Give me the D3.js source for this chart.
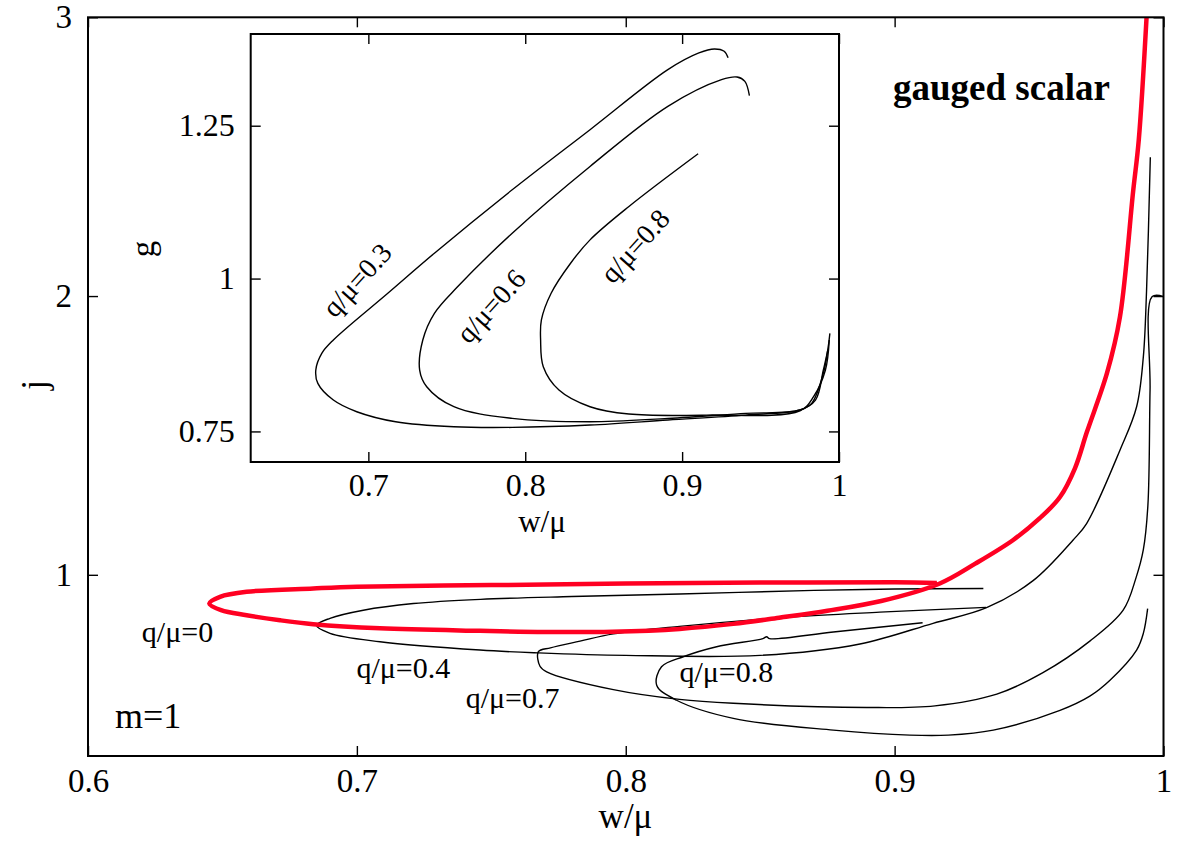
<!DOCTYPE html>
<html>
<head>
  <meta charset="utf-8">
  <title>gauged scalar, j vs w/mu</title>
  <style>
    body { margin: 0; background: #fff; }
    text { font-family: "Liberation Serif", "DejaVu Serif", serif; fill: #000; }
  </style>
</head>
<body>
  <script src="https://cdn.jsdelivr.net/npm/d3@7/dist/d3.min.js"></script>
  <script>
    // ---- data: [w/mu, value] ----
    // main plot, j vs w/mu
    var mainQ0 = [[0.9157,0.971],[0.9,0.973],[0.85,0.972],[0.8,0.969],[0.75,0.963],[0.7,0.957],[0.6838,0.951],
      [0.659,0.939],[0.6491,0.921],[0.6451,0.897],[0.6495,0.873],[0.659,0.855],[0.6714,0.837],[0.6838,0.823],
      [0.7086,0.808],[0.7458,0.799],[0.77,0.795],[0.795,0.796],[0.82,0.806],[0.84,0.824],[0.857,0.846],
      [0.875,0.871],[0.895,0.906],[0.9168,0.969],[0.93,1.04],[0.9441,1.125],[0.954,1.203],[0.9615,1.279],
      [0.9671,1.383],[0.9715,1.512],[0.979,1.724],[0.9838,1.925],[0.9887,2.375],[0.9908,2.56],[0.9937,3.0]];
    var mainQ04 = [[0.933,0.951],[0.9,0.949],[0.87,0.944],[0.82,0.931],[0.78,0.922],[0.746,0.912],[0.721,0.897],
      [0.7024,0.873],[0.69,0.844],[0.685,0.819],[0.69,0.79],[0.7086,0.76],[0.7458,0.73],[0.7675,0.72],
      [0.8,0.711],[0.85,0.711],[0.8871,0.752],[0.9143,0.826],[0.9342,0.882],[0.9515,0.979],[0.9664,1.125],
      [0.9714,1.184],[0.9838,1.447],[0.99,1.603],[0.9925,1.782],[0.9937,2.02],[0.9951,2.498]];
    var mainQ07 = [[0.934,0.883],[0.8945,0.866],[0.86,0.848],[0.82,0.815],[0.7954,0.788],[0.783,0.762],
      [0.772,0.738],[0.7675,0.724],[0.7681,0.672],[0.7706,0.652],[0.7954,0.588],[0.82,0.553],[0.84,0.539],
      [0.8896,0.524],[0.915,0.53],[0.938,0.572],[0.955,0.648],[0.9726,0.762],[0.985,0.873],[0.9898,0.99],
      [0.9925,1.09],[0.9942,1.25],[0.995,1.663],[0.9958,1.998],[1.0,1.998]];
    var mainQ08 = [[0.9104,0.828],[0.8772,0.795],[0.8535,0.771],[0.8524,0.778],[0.851,0.771],[0.8338,0.742],
      [0.8214,0.706],[0.8133,0.67],[0.8115,0.604],[0.8189,0.55],[0.84,0.485],[0.8772,0.443],[0.9057,0.425],
      [0.92,0.425],[0.9367,0.443],[0.9615,0.514],[0.9726,0.565],[0.9801,0.622],[0.99,0.73],[0.9925,0.79],
      [0.9941,0.879]];

    // inset, g vs w/mu
    var insetQ03 = [[0.9293,1.361],[0.9268,1.3717],[0.9206,1.3755],[0.9107,1.369],[0.8909,1.3417],[0.8413,1.2435],
      [0.7917,1.1452],[0.7421,1.0415],[0.7124,0.976],[0.6777,0.8996],[0.6703,0.8777],[0.6665,0.8504],
      [0.6678,0.8286],[0.6777,0.8013],[0.6926,0.7822],[0.7174,0.7658],[0.7545,0.7576],[0.7917,0.7566],
      [0.8413,0.7604],[0.8909,0.7686],[0.9404,0.7767],[0.9751,0.785],[0.9826,0.7959],[0.99,0.845],
      [0.9925,0.8777],[0.9942,0.9105]];
    var insetQ06 = [[0.9429,1.2991],[0.94,1.3226],[0.935,1.3297],[0.9251,1.3253],[0.8909,1.2817],[0.8413,1.1834],
      [0.7917,1.0742],[0.757,0.9869],[0.7421,0.9432],[0.7347,0.8996],[0.7327,0.8504],[0.7372,0.8231],
      [0.7545,0.7904],[0.7917,0.7713],[0.8413,0.7658],[0.8909,0.7713],[0.9404,0.7795],[0.9751,0.785],
      [0.985,0.8013],[0.99,0.85],[0.9929,0.8832]];
    var insetQ08 = [[0.9102,1.2041],[0.8661,1.1179],[0.8413,1.0633],[0.8289,1.0251],[0.8165,0.976],[0.8103,0.9323],
      [0.8098,0.8996],[0.8115,0.8559],[0.8215,0.8177],[0.8413,0.7904],[0.8661,0.7784],[0.9157,0.7767],
      [0.9751,0.7838],[0.9838,0.8068],[0.9913,0.85],[0.9938,0.8996]];

    // ticks and labels
    var mainXTicks = [0.6, 0.7, 0.8, 0.9, 1];
    var mainYTicks = [1, 2, 3];
    var insetXTicks = [0.7, 0.8, 0.9, 1];
    var insetYTicks = [0.75, 1, 1.25];
    var mainCurveLabels = ["q/\u03bc=0", "q/\u03bc=0.4", "q/\u03bc=0.7", "q/\u03bc=0.8"];
    var insetCurveLabels = ["q/\u03bc=0.3", "q/\u03bc=0.6", "q/\u03bc=0.8"];

    // ---- svg ----
    var svg = d3.select("body").append("svg").attr("id", "svg1")
    svg.attr('width', 1178)
    svg.attr('height', 841)

    var x = d3.scaleLinear().domain([0.6, 1]).range([88, 1163.5]),
        y = d3.scaleLinear().domain([0.35, 3]).range([756, 17.3]);
    var ix = d3.scaleLinear().domain([0.625, 1]).range([250.7, 839]),
        iy = d3.scaleLinear().domain([0.7, 1.4]).range([462, 34]);

    var fmt = d3.format("~g");

    // draws four inward-ticked sides, labels only on bottom/left
    function frame(g, sx, sy, xt, yt, padB, padL, fs) {
      var x0 = sx.range()[0], x1 = sx.range()[1], y0 = sy.range()[0], y1 = sy.range()[1];
      g.append("rect").attr("x", x0).attr("y", y1).attr("width", x1 - x0).attr("height", y0 - y1)
        .attr("fill", "#fff").attr("stroke", "none");
      var sides = [
        [d3.axisBottom(sx).tickValues(xt).tickFormat(fmt).tickPadding(padB), "translate(0," + y0 + ")"],
        [d3.axisTop(sx).tickValues(xt).tickFormat(""), "translate(0," + y1 + ")"],
        [d3.axisLeft(sy).tickValues(yt).tickFormat(fmt).tickPadding(padL), "translate(" + x0 + ",0)"],
        [d3.axisRight(sy).tickValues(yt).tickFormat(""), "translate(" + x1 + ",0)"]
      ];
      sides.forEach(function (s) {
        var a = g.append("g").attr("transform", s[1]).call(s[0].tickSize(-10));
        a.select(".domain").remove();
        a.selectAll("line").attr("stroke", "#000").attr("stroke-width", 1.4);
        a.selectAll("text").attr("font-size", fs).attr("font-family", "Liberation Serif");
      });
    }

    var line = function (sx, sy) {
      return d3.line().x(function (d) { return sx(d[0]); }).y(function (d) { return sy(d[1]); })
        .curve(d3.curveCatmullRom.alpha(0.5));
    };

    // main plot
    var main = svg.append("g").attr("id", "main");
    frame(main, x, y, mainXTicks, mainYTicks, 13, 16, 33);

    svg.append("clipPath").attr("id", "clipMain").append("rect")
      .attr("x", 88).attr("y", 17.3).attr("width", 1163.5 - 88).attr("height", 756 - 17.3);

    var curves = main.append("g").attr("clip-path", "url(#clipMain)");
    [mainQ04, mainQ07, mainQ08].forEach(function (s) {
      curves.append("path").datum(s).attr("d", line(x, y))
        .attr("fill", "none").attr("stroke", "#000").attr("stroke-width", 1.4);
    });
    curves.append("path").datum(mainQ0).attr("d", line(x, y))
      .attr("fill", "none").attr("stroke", "#ff0022").attr("stroke-width", 4.5);

    main.append("rect").attr("x", 88).attr("y", 17.3).attr("width", 1163.5 - 88).attr("height", 756 - 17.3)
      .attr("fill", "none").attr("stroke", "#000").attr("stroke-width", 2);

    // curve labels (anchored in data units)
    var mainLabelAt = [[0.6333, 0.76], [0.7173, 0.629], [0.7579, 0.522], [0.8374, 0.616]];
    mainCurveLabels.forEach(function (t, i) {
      main.append("text").attr("x", x(mainLabelAt[i][0])).attr("y", y(mainLabelAt[i][1]))
        .attr("text-anchor", "middle").attr("font-size", 30).text(t);
    });
    main.append("text").attr("x", x(0.61)).attr("y", y(0.449)).attr("font-size", 36).text("m=1");
    main.append("text").attr("x", x(0.8994)).attr("y", y(2.703)).attr("font-size", 37)
      .attr("font-weight", "bold").text("gauged scalar");

    // axis titles
    main.append("text").attr("x", 625.5).attr("y", 828).attr("text-anchor", "middle")
      .attr("font-size", 35).text("w/\u03bc");
    main.append("text").attr("transform", "translate(46,385) rotate(-90)").attr("text-anchor", "middle")
      .attr("font-size", 35).text("j");

    // inset
    var inset = svg.append("g").attr("id", "inset");
    frame(inset, ix, iy, insetXTicks, insetYTicks, 11, 16, 32);
    [insetQ03, insetQ06, insetQ08].forEach(function (s) {
      inset.append("path").datum(s).attr("d", line(ix, iy))
        .attr("fill", "none").attr("stroke", "#000").attr("stroke-width", 1.4);
    });
    inset.append("rect").attr("x", 250.7).attr("y", 34).attr("width", 839 - 250.7).attr("height", 462 - 34)
      .attr("fill", "none").attr("stroke", "#000").attr("stroke-width", 2);

    var insetLabelAt = [[0.6928, 0.9977], [0.7782, 0.9551], [0.87, 1.0533]];
    insetCurveLabels.forEach(function (t, i) {
      inset.append("text")
        .attr("transform", "translate(" + ix(insetLabelAt[i][0]) + "," + iy(insetLabelAt[i][1]) + ") rotate(-48)")
        .attr("text-anchor", "middle").attr("dominant-baseline", "central")
        .attr("font-size", 28).text(t);
    });
    inset.append("text").attr("x", 542).attr("y", 532).attr("text-anchor", "middle")
      .attr("font-size", 31).text("w/\u03bc");
    inset.append("text").attr("transform", "translate(154,249) rotate(-90)").attr("text-anchor", "middle")
      .attr("font-size", 33).text("g");
  </script>
</body>
</html>
